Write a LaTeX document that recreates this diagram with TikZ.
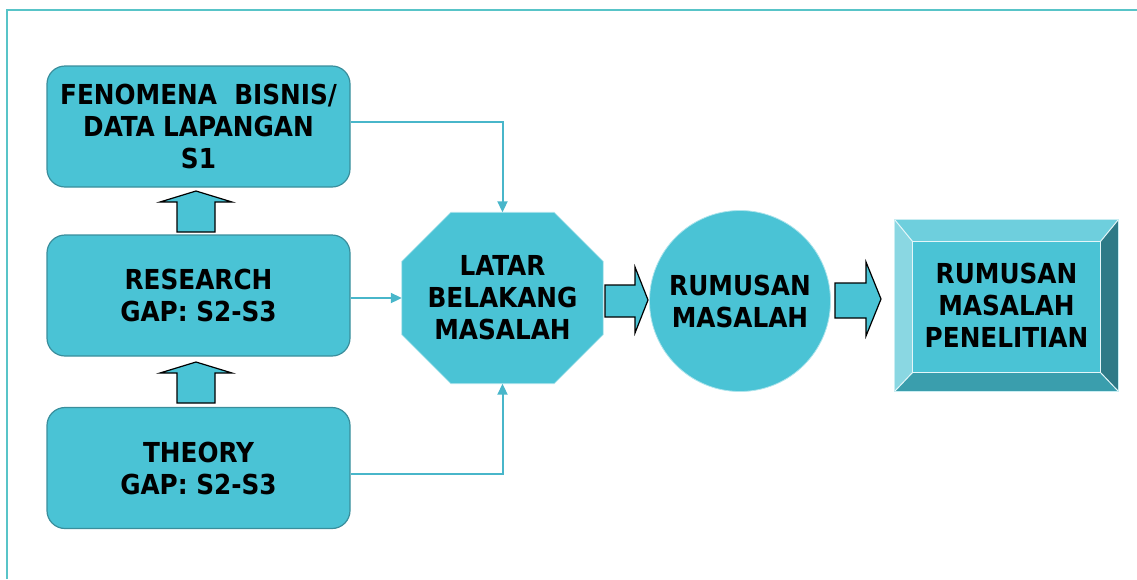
\documentclass[tikz,border=0pt]{standalone}
\usepackage{fontspec}
\newfontfamily\lblfont{DejaVu Sans Condensed}
\usetikzlibrary{calc,arrows.meta,backgrounds}

\definecolor{tealfill}{RGB}{74,195,213}
\definecolor{tealedge}{RGB}{58,142,156}
\definecolor{linkcol}{RGB}{72,182,202}
\definecolor{framecol}{RGB}{88,196,200}
\definecolor{bevtop}{RGB}{110,207,221}
\definecolor{bevleft}{RGB}{138,215,226}
\definecolor{bevright}{RGB}{46,122,135}
\definecolor{bevbot}{RGB}{58,158,173}

\tikzset{
  lbl/.style={font=\lblfont\bfseries\fontsize{27.5}{32}\selectfont, align=center, text=black},
  srcbox/.style={lbl, draw=tealedge, line width=1.2pt, fill=tealfill, rounded corners=18pt,
    minimum width=303pt, minimum height=121pt, inner sep=0pt},
  link/.style={draw=linkcol, line width=2pt, -{Triangle[length=11pt,width=10pt]}},
  blockarrow/.style={fill=tealfill, draw=black, line width=1.2pt, line join=miter},
  softedge/.style={draw=white!55!tealfill, line width=0.8pt},
  bevline/.style={draw=white!85!tealfill, line width=1pt},
}

\begin{document}
\begin{tikzpicture}[x=1pt,y=-1pt]
\useasboundingbox (0,0) rectangle (1137,579);

% page frame (top and left rules)
\draw[framecol, line width=2pt] (6.5,579) -- (6.5,9.5) -- (1137,9.5);

% source boxes
\node[srcbox] (fen) at (198.5,126.5) {FENOMENA\ \ BISNIS/\\DATA LAPANGAN\\S1};
\node[srcbox] (gap) at (198.5,295.5) {RESEARCH\\GAP: S2-S3};
\node[srcbox] (thy) at (198.5,468) {THEORY\\GAP: S2-S3};

% upward block arrows between the source boxes
\draw[blockarrow] (177,232) -- (177,202) -- (160,202) -- (196,191) -- (232,202) -- (215,202) -- (215,232) -- cycle;
\draw[blockarrow] (177,403) -- (177,373) -- (160,373) -- (196,362) -- (232,373) -- (215,373) -- (215,403) -- cycle;

% octagon: background of the problem
\node[lbl, minimum width=201pt, minimum height=171pt, inner sep=0pt] (lbm) at (502.5,298) {LATAR\\BELAKANG\\MASALAH};
\begin{pgfonlayer}{background}
\path[fill=tealfill, softedge]
  ($(lbm.north west)+(49,0)$) -- ($(lbm.north east)+(-49,0)$) --
  ($(lbm.north east)+(0,49)$) -- ($(lbm.south east)+(0,-49)$) --
  ($(lbm.south east)+(-49,0)$) -- ($(lbm.south west)+(49,0)$) --
  ($(lbm.south west)+(0,-49)$) -- ($(lbm.north west)+(0,49)$) -- cycle;
\end{pgfonlayer}

% circle: problem formulation
\node[lbl, circle, fill=tealfill, softedge, minimum size=181pt, inner sep=0pt] (rum) at (740,301) {RUMUSAN\\MASALAH};

% bevelled box: research problem formulation
\node[lbl, minimum width=223pt, minimum height=171pt, inner sep=0pt] (rmp) at (1006.5,305.5) {RUMUSAN\\MASALAH\\PENELITIAN};
\begin{pgfonlayer}{background}
\coordinate (inw) at ($(rmp.north west)+(18,22)$);
\coordinate (ine) at ($(rmp.north east)+(-18,22)$);
\coordinate (ise) at ($(rmp.south east)+(-18,-19)$);
\coordinate (isw) at ($(rmp.south west)+(18,-19)$);
\fill[bevtop] (rmp.north west) -- (rmp.north east) -- (ine) -- (inw) -- cycle;
\fill[bevleft] (rmp.north west) -- (inw) -- (isw) -- (rmp.south west) -- cycle;
\fill[bevright] (rmp.north east) -- (rmp.south east) -- (ise) -- (ine) -- cycle;
\fill[bevbot] (rmp.south west) -- (rmp.south east) -- (ise) -- (isw) -- cycle;
\fill[tealfill] (inw) rectangle (ise);
\draw[bevline] (inw) rectangle (ise);
\draw[bevline] (rmp.north west) -- (inw) (rmp.north east) -- (ine)
  (rmp.south east) -- (ise) (rmp.south west) -- (isw);
\draw[draw=white!70!tealfill, line width=0.8pt] (rmp.north west) rectangle (rmp.south east);
\end{pgfonlayer}

% block arrows towards the right
\draw[blockarrow] (605,285) -- (635,285) -- (635,267) -- (648,300) -- (635,333) -- (635,317) -- (605,317) -- cycle;
\draw[blockarrow] (835,283) -- (866,283) -- (866,262) -- (881,299) -- (866,336) -- (866,318) -- (835,318) -- cycle;

% thin connectors into the octagon
\draw[link] ($(fen.east)+(0,-4.5)$) -| (lbm.north);
\draw[link] (gap.east |- lbm.west) -- (lbm.west);
\draw[link] ($(thy.east)+(0,6)$) -| (lbm.south);
\end{tikzpicture}
\end{document}
